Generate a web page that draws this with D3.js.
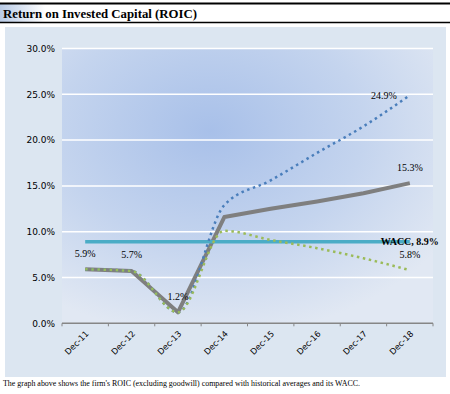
<!DOCTYPE html>
<html><head><meta charset="utf-8">
<script src="https://cdn.jsdelivr.net/npm/d3@7"></script>
<style>html,body{margin:0;padding:0;background:#fff;}svg{display:block;}
.serif{font-family:"Liberation Serif","Times New Roman","DejaVu Serif",serif;}
.sans{font-family:"DejaVu Sans",Verdana,sans-serif;}
</style>
</head><body>
<script>
const categories = ["Dec-11","Dec-12","Dec-13","Dec-14","Dec-15","Dec-16","Dec-17","Dec-18"];
const roic       = [5.9, 5.7, 1.2, 11.6, 12.5, 13.3, 14.2, 15.3];
const roicHigh   = [5.9, 5.7, 1.2, 12.9, 15.6, 18.6, 21.5, 24.9];
const roicLow    = [5.9, 5.7, 1.2, 10.1, 9.1, 8.2, 7.1, 5.8];
const wacc       = [8.9, 8.9, 8.9, 8.9, 8.9, 8.9, 8.9, 8.9];
const yTicks     = [0, 5, 10, 15, 20, 25, 30];
const titleText  = "Return on Invested Capital (ROIC)";
const footText   = "The graph above shows the firm's ROIC (excluding goodwill) compared with historical averages and its WACC.";

const W = 450, H = 394;
const svg = d3.select("body").append("svg").attr("width", W).attr("height", H);
const defs = svg.append("defs");

const tg = defs.append("linearGradient").attr("id","tg").attr("x1","0").attr("x2","1").attr("y1","0").attr("y2","0");
tg.append("stop").attr("offset","0").attr("stop-color","#b9cbe6");
tg.append("stop").attr("offset","0.1").attr("stop-color","#ffffff");
tg.append("stop").attr("offset","1").attr("stop-color","#ffffff");

const rg = defs.append("radialGradient").attr("id","rg")
  .attr("cx","0.4").attr("cy","0.3").attr("r","0.75");
rg.append("stop").attr("offset","0").attr("stop-color","#a8c0e9");
rg.append("stop").attr("offset","0.55").attr("stop-color","#c4d4ee");
rg.append("stop").attr("offset","1").attr("stop-color","#e1e8f3");

svg.append("rect").attr("x",0).attr("y",4).attr("width",W).attr("height",18).attr("fill","url(#tg)");
svg.append("line").attr("x1",0).attr("x2",W).attr("y1",3.5).attr("y2",3.5).attr("stroke","#000").attr("stroke-width",2);
svg.append("line").attr("x1",0).attr("x2",W).attr("y1",22.5).attr("y2",22.5).attr("stroke","#000").attr("stroke-width",1.3);
svg.append("text").attr("class","serif").attr("x",3).attr("y",18).text(titleText)
  .attr("font-weight","bold").attr("font-size",13.5)
  .attr("textLength",194).attr("lengthAdjust","spacingAndGlyphs").attr("fill","#000");

svg.append("rect").attr("x",5).attr("y",27).attr("width",441).attr("height",350).attr("fill","#dce6f1");

svg.append("text").attr("class","serif").attr("x",3).attr("y",386).text(footText)
  .attr("font-size",7.2)
  .attr("textLength",357).attr("lengthAdjust","spacingAndGlyphs").attr("fill","#000");

const L = 62, R = 433, T = 48.5, B = 323.3;
svg.append("rect").attr("x",L).attr("y",T).attr("width",R-L).attr("height",B-T).attr("fill","url(#rg)");

const x = d3.scaleBand().domain(categories).range([L, R]);
const y = d3.scaleLinear().domain([0, 30]).range([B, T]);
const cx = d => x(d) + x.bandwidth()/2;

svg.append("g").selectAll("line").data(yTicks.filter(t => t > 0)).join("line")
  .attr("x1",L).attr("x2",R).attr("y1",d=>y(d)).attr("y2",d=>y(d))
  .attr("stroke","#ffffff").attr("stroke-width",1.5);

const yAxis = d3.axisLeft(y).tickValues(yTicks).tickFormat(d => d.toFixed(1) + "%").tickSize(0).tickPadding(7);
const gy = svg.append("g").attr("transform",`translate(${L},0)`).call(yAxis);
gy.select(".domain").remove();
gy.selectAll("text").attr("class","sans").attr("font-family",null).attr("font-size",9).attr("fill","#000");

svg.append("line").attr("x1",L).attr("x2",R).attr("y1",B).attr("y2",B).attr("stroke","#868686").attr("stroke-width",1.5);
const bounds = categories.map(c => x(c)).concat([R]);
svg.append("g").selectAll("line").data(bounds).join("line")
  .attr("x1",d=>d).attr("x2",d=>d).attr("y1",B).attr("y2",B+3).attr("stroke","#868686").attr("stroke-width",1);
svg.append("g").selectAll("text").data(categories).join("text")
  .attr("class","sans")
  .attr("transform", d => `translate(${cx(d)+2},${B+9}) rotate(-45)`)
  .attr("text-anchor","end").attr("dy","0.35em")
  .attr("font-size",8.3).attr("fill","#000")
  .text(d => d);

const mk = (vals, curve) => d3.line().x((d,i)=>cx(categories[i])).y(d=>y(d)).curve(curve)(vals);
svg.append("path").attr("d", mk(roic, d3.curveLinear)).attr("fill","none")
  .attr("stroke","#7f7f7f").attr("stroke-width",4).attr("stroke-linejoin","round");
svg.append("path").attr("d", mk(wacc, d3.curveLinear)).attr("fill","none")
  .attr("stroke","#4bacc6").attr("stroke-width",3.5);
svg.append("path").attr("d", mk(roicHigh, d3.curveMonotoneX)).attr("fill","none")
  .attr("stroke","#4a7ebb").attr("stroke-width",2.5).attr("stroke-dasharray","2.5,3.6");
svg.append("path").attr("d", mk(roicLow, d3.curveMonotoneX)).attr("fill","none")
  .attr("stroke","#9bbb59").attr("stroke-width",2.5).attr("stroke-dasharray","2.5,3.6");

const lbl = (xp, yp, txt, bold) => svg.append("text").attr("class","serif").attr("x",xp).attr("y",yp).text(txt)
  .attr("text-anchor","middle").attr("font-size",10)
  .attr("font-weight", bold ? "bold" : "normal").attr("fill","#000");
const fmt = v => v.toFixed(1) + "%";
lbl(cx(categories[0]), y(roic[0]) - 12, fmt(roic[0]));
lbl(cx(categories[1]), y(roic[1]) - 13, fmt(roic[1]));
lbl(cx(categories[2]), y(roic[2]) - 12, fmt(roic[2]));
lbl(cx(categories[7]) - 26, y(roicHigh[7]) + 3.5, fmt(roicHigh[7]));
lbl(cx(categories[7]), y(roic[7]) - 12, fmt(roic[7]));
lbl(cx(categories[7]), y(roicLow[7]) - 12, fmt(roicLow[7]));
lbl(cx(categories[7]), y(wacc[7]) + 3.5, "WACC, " + fmt(wacc[7]), true);
</script>
</body></html>
